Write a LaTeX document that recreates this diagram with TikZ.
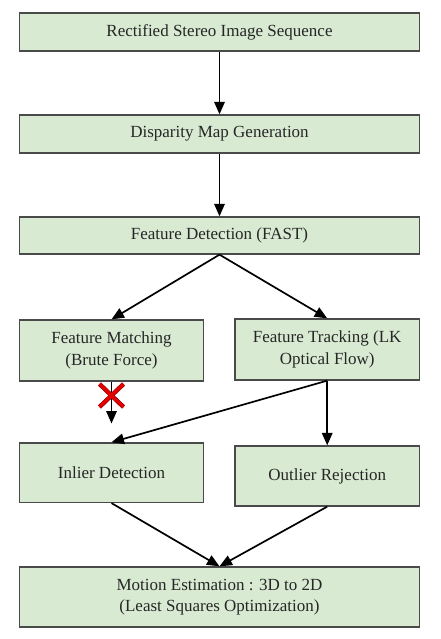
\documentclass[tikz,border=0pt]{standalone}
\usepackage{fontspec}
\setmainfont{Liberation Serif}
\usetikzlibrary{arrows.meta}
\definecolor{boxgreen}{HTML}{D9EAD3}
\definecolor{boxline}{HTML}{4A4A4A}
\tikzset{
	stage/.style={draw=boxline, line width=1.3pt, fill=boxgreen, text=black!85, align=center, font=\fontsize{17}{21.5}\selectfont, inner sep=0pt},
	wide/.style={stage, minimum width=400pt, minimum height=38pt},
	half/.style={stage, minimum width=184pt, minimum height=61pt},
	flow/.style={line width=1.7pt, -{Triangle[length=12.5pt,width=10.5pt]}},
	nogo/.style={draw=red!55!black, double=red!90!black, double distance=3.2pt, line width=0.6pt}
}

\begin{document}
\begin{tikzpicture}[x=1pt, y=-1pt]
		%%%%% START %%%%%
		\useasboundingbox (0, 0) rectangle (441, 639);
		
		\node[wide] (seq) at (219.5, 32) {Rectified Stereo Image Sequence};
		\node[wide] (disp) at (219.5, 134) {Disparity Map Generation};
		\node[wide, minimum height=37pt] (fast) at (219.5, 235.5) {Feature Detection (FAST)};
		
		\node[half] (match) at (111.5, 350.5) {Feature Matching\\(Brute Force)};
		\node[half, minimum width=184.5pt] (track) at (327.2, 349.5) {Feature Tracking (LK\\Optical Flow)};
		
		\node[half, minimum height=59.5pt] (inlier) at (111.5, 472.7) {Inlier Detection};
		\node[half, minimum width=184.5pt, minimum height=60pt] (outlier) at (327.2, 476) {Outlier Rejection};
		
		\node[wide, minimum height=60pt] (motion) at (219.5, 597) {Motion Estimation : 3D to 2D\\(Least Squares Optimization)};
		
		\draw[flow] (seq) -- (disp);
		\draw[flow] (disp) -- (fast);
		\draw[flow] (fast.south) -- (match.north);
		\draw[flow] (fast.south) -- (track.north);
		
		% rejected branch
		\coordinate (stop) at (111.5, 423.5);
		\draw[flow] (match.south) -- (stop);
		\draw[nogo] (99.5, 384) -- (123.5, 407) (123.5, 384) -- (99.5, 407);
		
		\draw[flow] (track.south) -- (inlier.north);
		\draw[flow] (track.south) -- (outlier.north);
		\draw[flow] (inlier.south) -- (motion.north);
		\draw[flow] (outlier.south) -- (motion.north);
		
		%%%%% END %%%%%
	\end{tikzpicture}
\end{document}
